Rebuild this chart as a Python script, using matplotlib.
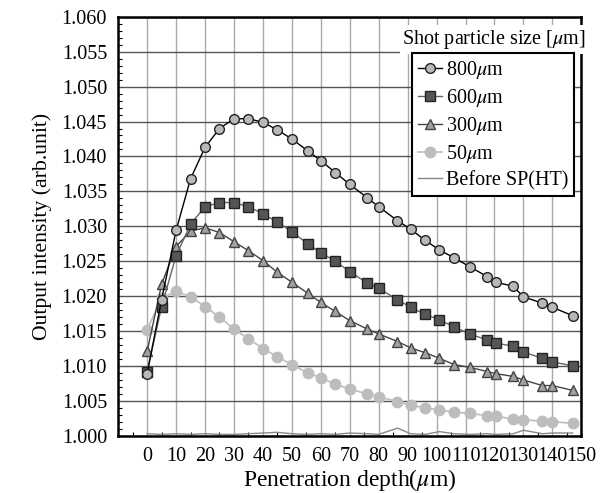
import numpy as np
import matplotlib
matplotlib.use("Agg")
import matplotlib.pyplot as plt

plt.rcParams['font.family'] = ['Liberation Serif', 'DejaVu Serif']
plt.rcParams['mathtext.fontset'] = 'stix'

# penetration depth sample positions (um)
depth = [0, 5, 10, 15, 20, 25, 30, 35, 40, 45, 50, 55.5, 60, 65, 70, 76,
         80, 86.5, 91, 96, 101, 106, 111.5, 117.5, 120.5, 126.5, 130, 136.5, 140, 147]

s800 = [1.0089, 1.0195, 1.0294, 1.0368, 1.0413, 1.0440, 1.0454, 1.0454, 1.0449, 1.0438,
        1.0425, 1.0408, 1.0394, 1.0377, 1.0360, 1.0341, 1.0328, 1.0308, 1.0296, 1.0280,
        1.0266, 1.0255, 1.0242, 1.0228, 1.0220, 1.0214, 1.0199, 1.0190, 1.0184, 1.0172]
s600 = [1.0092, 1.0185, 1.0258, 1.0303, 1.0328, 1.0334, 1.0334, 1.0328, 1.0318, 1.0306,
        1.0292, 1.0275, 1.0262, 1.0250, 1.0235, 1.0219, 1.0211, 1.0195, 1.0184, 1.0174,
        1.0166, 1.0156, 1.0146, 1.0137, 1.0133, 1.0128, 1.0120, 1.0111, 1.0106, 1.0100]
s300 = [1.0121, 1.0217, 1.0271, 1.0293, 1.0298, 1.0291, 1.0278, 1.0265, 1.0251, 1.0234,
        1.0220, 1.0204, 1.0191, 1.0178, 1.0165, 1.0153, 1.0146, 1.0135, 1.0126, 1.0119,
        1.0111, 1.0102, 1.0098, 1.0092, 1.0089, 1.0085, 1.0080, 1.0072, 1.0072, 1.0065]
s50 = [1.0152, 1.0197, 1.0207, 1.0199, 1.0185, 1.0170, 1.0153, 1.0139, 1.0125, 1.0113,
       1.0102, 1.0090, 1.0083, 1.0074, 1.0067, 1.0060, 1.0056, 1.0049, 1.0044, 1.0040,
       1.0037, 1.0034, 1.0032, 1.0029, 1.0028, 1.0024, 1.0023, 1.0021, 1.0020, 1.0018]
before = [1.0003, 1.0002, 1.0003, 1.0002, 1.0003, 1.0002, 1.0002, 1.0003, 1.0004, 1.0005,
          1.0003, 1.0002, 1.0003, 1.0002, 1.0004, 1.0003, 1.0002, 1.0011, 1.0003, 1.0002,
          1.0006, 1.0003, 1.0002, 1.0003, 1.0002, 1.0003, 1.0008, 1.0003, 1.0004, 1.0004]

fig = plt.figure(figsize=(6.03, 4.93), dpi=100)
ax = fig.add_axes([0.196, 0.116, 0.768, 0.850])

ax.plot(depth, s800, '-o', color='black', lw=1.0, ms=7, mfc='#b8b8b8', mec='#222222',
        mew=1.0, label='800$\\mu$m', zorder=5)
ax.plot(depth, s600, '-s', color='#666666', lw=1.0, ms=7, mfc='#555555', mec='#222222',
        mew=1.0, label='600$\\mu$m', zorder=4)
ax.plot(depth, s300, '-^', color='#444444', lw=1.0, ms=7.5, mfc='#a0a0a0', mec='#444444',
        mew=1.0, label='300$\\mu$m', zorder=3)
ax.plot(depth, s50, '-o', color='#bdbdbd', lw=1.2, ms=7.5, mfc='#bdbdbd', mec='#bdbdbd',
        label='50$\\mu$m', zorder=2)
ax.plot(depth, before, '-', color='#888888', lw=1.0, label='Before SP(HT)', zorder=1)

ax.set_xlim(-10, 150)
ax.set_ylim(1.000, 1.060)
ax.set_xticks(np.arange(0, 151, 10))
ax.set_xticks(np.arange(-5, 150, 10), minor=True)
ax.set_yticks(np.arange(1.000, 1.0601, 0.005))
ax.set_yticks(np.arange(1.000, 1.0601, 0.001), minor=True)
ax.set_yticklabels(['%.3f' % v for v in np.arange(1.000, 1.0601, 0.005)])

ax.xaxis.grid(True, which='major', color='#aaaaaa', lw=1.0)
ax.yaxis.grid(True, which='major', color='#555555', lw=1.0)
ax.set_axisbelow(True)

ax.tick_params(which='both', direction='in', labelsize=14.5, color='black')
ax.tick_params(which='major', length=0, pad=8)
ax.tick_params(axis='y', which='minor', length=3, width=0.8)
ax.tick_params(axis='x', which='minor', length=3, width=0.8)
for sp in ax.spines.values():
    sp.set_linewidth(1.8)
    sp.set_color('black')

ax.set_xlabel('Penetration depth($\\mu$m)', fontsize=17, labelpad=1)
ax.set_ylabel('Output intensity (arb.unit)', fontsize=15.7, labelpad=7)

leg = ax.legend(loc='upper right', bbox_to_anchor=(0.985, 0.914), borderaxespad=0,
                fontsize=14.5, frameon=True, fancybox=False, framealpha=1,
                edgecolor='black', handlelength=1.2, handletextpad=0.2,
                labelspacing=0.3, borderpad=0.3)
leg.get_frame().set_linewidth(1.5)
leg.set_zorder(10)

ax.text(0.812, 0.945, 'Shot particle size [$\\mu$m]', transform=ax.transAxes,
        ha='center', va='center', fontsize=14.5, zorder=10,
        bbox=dict(facecolor='white', edgecolor='none', pad=2))

fig.savefig('out.png', dpi=100)
